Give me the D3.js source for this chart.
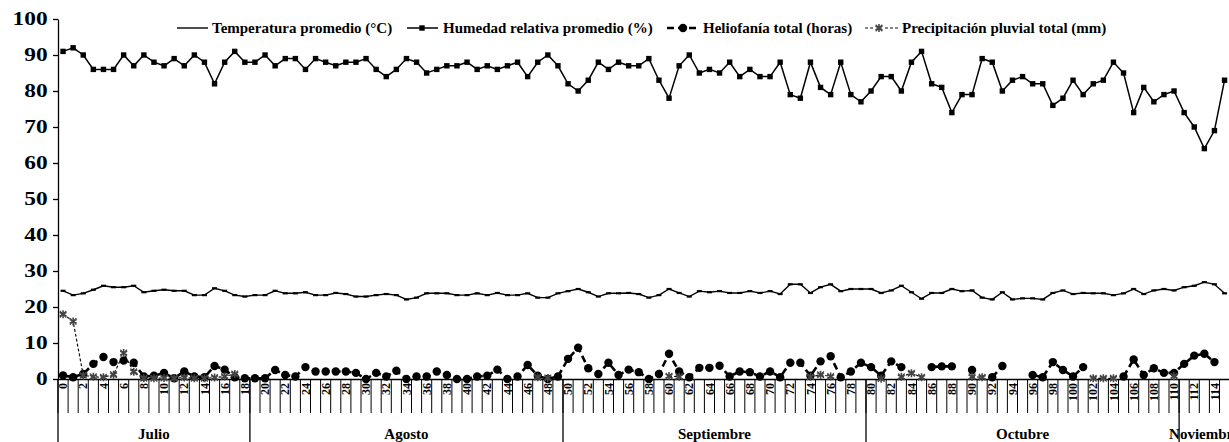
<!DOCTYPE html>
<html>
<head>
<meta charset="utf-8">
<script src="https://cdn.jsdelivr.net/npm/d3@7"></script>
<style>
  body { margin: 0; background: #fff; }
  text { font-family: "Liberation Serif", "Times New Roman", serif; font-weight: bold; fill: #000; }
</style>
</head>
<body>
<svg id="chart" width="1229" height="442"></svg>
<script>
// dias desde el 13 de julio (indice de la serie)
const dias = d3.range(116)
const yTicks = [0, 10, 20, 30, 40, 50, 60, 70, 80, 90, 100]

const meses = ["Julio", "Agosto", "Septiembre", "Octubre", "Noviembre"]
const mesInicio = [0, 19, 50, 80, 111]
const mesFin = [18, 49, 79, 110, 115]

const series = ["Temperatura promedio (°C)", "Humedad relativa promedio (%)", "Heliofanía total (horas)", "Precipitación pluvial total (mm)"]

const temperatura = [
  24.5, 23.3, 23.8, 24.8, 25.9, 25.5, 25.5, 25.9, 24.1, 24.5,
  24.8, 24.5, 24.5, 23.3, 23.3, 25.2, 24.5, 23.3, 22.9, 23.3,
  23.3, 24.5, 23.8, 23.8, 24.1, 23.3, 23.3, 23.9, 23.6, 22.9,
  22.9, 23.3, 23.6, 23.3, 22.1, 22.6, 23.8, 23.8, 23.8, 23.3,
  23.3, 23.8, 23.3, 23.9, 23.3, 23.3, 23.8, 22.6, 22.6, 23.8,
  24.4, 25.0, 24.1, 22.9, 23.8, 23.8, 23.9, 23.6, 22.6, 23.3,
  25.0, 23.9, 22.9, 24.4, 24.1, 24.4, 23.9, 23.9, 24.4, 23.9,
  24.4, 23.6, 26.3, 26.3, 23.9, 25.5, 26.3, 24.4, 25.0, 25.0,
  25.0, 23.9, 24.6, 25.9, 24.1, 22.3, 23.9, 23.9, 25.0, 24.4,
  24.6, 22.6, 22.1, 24.1, 22.1, 22.4, 22.4, 22.1, 23.9, 24.6,
  23.6, 23.9, 23.8, 23.8, 23.3, 23.8, 25.0, 23.6, 24.6, 25.0,
  24.6, 25.5, 25.9, 26.9, 26.3, 23.8
]

const humedad = [
  91, 92, 90, 86, 86, 86, 90, 87, 90, 88,
  87, 89, 87, 90, 88, 82, 88, 91, 88, 88,
  90, 87, 89, 89, 86, 89, 88, 87, 88, 88,
  89, 86, 84, 86, 89, 88, 85, 86, 87, 87,
  88, 86, 87, 86, 87, 88, 84, 88, 90, 87,
  82, 80, 83, 88, 86, 88, 87, 87, 89, 83,
  78, 87, 90, 85, 86, 85, 88, 84, 86, 84,
  84, 88, 79, 78, 88, 81, 79, 88, 79, 77,
  80, 84, 84, 80, 88, 91, 82, 81, 74, 79,
  79, 89, 88, 80, 83, 84, 82, 82, 76, 78,
  83, 79, 82, 83, 88, 85, 74, 81, 77, 79,
  80, 74, 70, 64, 69, 83
]

const heliofania = [
  1.0, 0.5, 1.4, 4.2, 6.1, 4.7, 5.1, 4.5, 0.7, 0.9,
  1.7, 0.2, 2.1, 0.7, 0.5, 3.6, 2.6, 0.5, 0.2, 0.2,
  0.2, 2.5, 1.1, 0.7, 3.3, 2.1, 2.1, 2.1, 2.1, 1.7,
  0, 1.7, 0.7, 2.3, 0, 0.7, 0.7, 2.1, 1.1, 0,
  0, 0.7, 0.9, 2.6, 0, 0.7, 3.9, 0.9, 0, 0.7,
  5.6, 8.7, 3.0, 1.4, 4.5, 1.1, 2.6, 1.9, 0, 1.4,
  7.0, 2.1, 0.5, 3.1, 3.1, 3.7, 0.7, 2.1, 1.9, 0.7,
  2.1, 0.5, 4.5, 4.5, 0.9, 4.9, 6.3, 0.5, 2.1, 4.5,
  3.3, 0.9, 4.9, 3.3, null, null, 3.3, 3.5, 3.5, null,
  2.5, null, 0.5, 3.6, null, null, 1.1, 0.5, 4.7, 2.5,
  0.7, 3.3, null, null, null, 0.7, 5.4, 1.1, 3.0, 1.7,
  1.7, 4.2, 6.5, 7.0, 4.7, null
]

const precipitacion = [
  18, 16, 1.0, 0.6, 0.5, 1.2, 7.2, 2.0, 0.2, 0.2,
  0.3, 0.2, 0.4, 0.2, 0.2, 0.4, 0.7, 1.4, null, null,
  null, null, null, null, null, null, null, null, null, null,
  null, null, null, null, null, null, null, null, null, null,
  null, null, null, null, null, null, null, 0.5, 0.3, null,
  null, null, null, null, null, null, null, null, null, null,
  0.8, 0.6, null, null, null, null, null, null, null, null,
  null, null, null, null, 0.6, 1.2, 0.7, null, null, null,
  null, 0.1, null, 0.6, 1.6, 0.5, null, null, null, null,
  0.6, 0.5, null, null, null, null, null, null, null, null,
  null, null, 0.2, 0.2, 0.2, null, null, null, null, null,
  0.8, null, null, null, null, null
]

function drawChart() {
    var svg = d3.select("#chart")

    var x = d3.scaleBand().domain(dias).range([58, 58 + dias.length * 10.1])
    var y = d3.scaleLinear().domain([0, 100]).range([379, 19])
    var cx = d => x(d) + x.bandwidth() / 2

    // eje Y
    var gy = svg.append("g")
        .attr("transform", "translate(58,0)")
        .call(d3.axisLeft(y).tickValues(yTicks).tickSize(5).tickSizeOuter(0))
    gy.attr("font-size", null).attr("font-family", null)
    gy.selectAll("path, line").attr("stroke", "#000").attr("stroke-width", 1.3)
    gy.selectAll("text")
        .attr("x", -8)
        .attr("transform", "scale(1.3,1)")
        .style("font-size", "18px")

    // eje X con dias
    var gx = svg.append("g")
        .attr("transform", "translate(0,379)")
        .call(d3.axisBottom(x).tickValues(dias.filter(d => d % 2 === 0)).tickSize(0).tickSizeOuter(0))
    gx.attr("font-size", null).attr("font-family", null)
    gx.select(".domain").attr("stroke", "#000").attr("stroke-width", 1.3)
    gx.selectAll("text")
        .attr("transform", "rotate(-90)")
        .attr("x", -4)
        .attr("y", 0)
        .attr("dy", "0.35em")
        .style("text-anchor", "end")
        .style("font-size", "12px")

    // separadores de cada dia
    svg.append("g").selectAll("line")
        .data(dias)
        .join("line")
        .attr("x1", d => x(d)).attr("x2", d => x(d))
        .attr("y1", 379).attr("y2", 413)
        .attr("stroke", "#000").attr("stroke-width", 1)

    // meses
    var gm = svg.append("g")
    gm.selectAll("line")
        .data(mesInicio)
        .join("line")
        .attr("x1", d => x(d)).attr("x2", d => x(d))
        .attr("y1", 379).attr("y2", 442)
        .attr("stroke", "#000").attr("stroke-width", 1.3)
    gm.selectAll("text")
        .data(meses)
        .join("text")
        .attr("x", (d, i) => (x(mesInicio[i]) + x(mesFin[i]) + x.bandwidth()) / 2)
        .attr("y", 439)
        .attr("text-anchor", "middle")
        .style("font-size", "15px")
        .text(d => d)

    var linea = d3.line()
        .defined(d => d != null)
        .x((d, i) => cx(dias[i]))
        .y(d => y(d))

    // temperatura
    svg.append("path")
        .datum(temperatura)
        .attr("d", linea)
        .attr("fill", "none").attr("stroke", "#000").attr("stroke-width", 1.4)
    svg.append("g").selectAll("line")
        .data(temperatura)
        .join("line")
        .attr("x1", (d, i) => cx(dias[i]) - 2.5).attr("x2", (d, i) => cx(dias[i]) + 2.5)
        .attr("y1", d => y(d)).attr("y2", d => y(d))
        .attr("stroke", "#000").attr("stroke-width", 2.2)

    // humedad
    svg.append("path")
        .datum(humedad)
        .attr("d", linea)
        .attr("fill", "none").attr("stroke", "#000").attr("stroke-width", 1.5)
    svg.append("g").selectAll("rect")
        .data(humedad)
        .join("rect")
        .attr("x", (d, i) => cx(dias[i]) - 2.7)
        .attr("y", d => y(d) - 2.7)
        .attr("width", 5.4).attr("height", 5.4)
        .attr("fill", "#000")

    // heliofania
    svg.append("path")
        .datum(heliofania)
        .attr("d", linea)
        .attr("fill", "none").attr("stroke", "#000").attr("stroke-width", 2.6)
        .attr("stroke-dasharray", "7,4")
    svg.append("g").selectAll("circle")
        .data(heliofania.map((v, i) => [i, v]).filter(d => d[1] != null))
        .join("circle")
        .attr("cx", d => cx(dias[d[0]]))
        .attr("cy", d => y(d[1]))
        .attr("r", 4.2)
        .attr("fill", "#000")

    // precipitacion
    var estrella = d3.symbol().type(d3.symbolAsterisk).size(45)
    var cruz = d3.symbol().type(d3.symbolX).size(30)
    svg.append("path")
        .datum(precipitacion)
        .attr("d", linea)
        .attr("fill", "none").attr("stroke", "#111").attr("stroke-width", 1.2)
        .attr("stroke-dasharray", "3,2")
    var gp = svg.append("g").selectAll("g")
        .data(precipitacion.map((v, i) => [i, v]).filter(d => d[1] != null))
        .join("g")
        .attr("transform", d => "translate(" + cx(dias[d[0]]) + "," + y(d[1]) + ")")
    gp.append("path").attr("d", estrella).attr("fill", "none").attr("stroke", "#444").attr("stroke-width", 1.6)
    gp.append("path").attr("d", cruz).attr("fill", "none").attr("stroke", "#444").attr("stroke-width", 1.2)

    // leyenda
    var ly = 28
    var leg = svg.append("g")
    leg.append("line").attr("x1", 177).attr("x2", 208).attr("y1", ly).attr("y2", ly)
        .attr("stroke", "#000").attr("stroke-width", 1.4)
    leg.append("text").attr("x", 212).attr("y", ly + 5).style("font-size", "15px").text(series[0])

    leg.append("line").attr("x1", 407).attr("x2", 438).attr("y1", ly).attr("y2", ly)
        .attr("stroke", "#000").attr("stroke-width", 1.5)
    leg.append("rect").attr("x", 422 - 2.7).attr("y", ly - 2.7).attr("width", 5.4).attr("height", 5.4).attr("fill", "#000")
    leg.append("text").attr("x", 443).attr("y", ly + 5).style("font-size", "15px").text(series[1])

    leg.append("line").attr("x1", 667).attr("x2", 700).attr("y1", ly).attr("y2", ly)
        .attr("stroke", "#000").attr("stroke-width", 2.6).attr("stroke-dasharray", "7,4")
    leg.append("circle").attr("cx", 683).attr("cy", ly).attr("r", 4.2).attr("fill", "#000")
    leg.append("text").attr("x", 703).attr("y", ly + 5).style("font-size", "15px").text(series[2])

    leg.append("line").attr("x1", 865).attr("x2", 899).attr("y1", ly).attr("y2", ly)
        .attr("stroke", "#111").attr("stroke-width", 1.2).attr("stroke-dasharray", "3,2")
    var lp = leg.append("g").attr("transform", "translate(879," + ly + ")")
    lp.append("rect").attr("x", -5).attr("y", -5).attr("width", 10).attr("height", 10).attr("fill", "#fff")
    lp.append("path").attr("d", estrella).attr("fill", "none").attr("stroke", "#444").attr("stroke-width", 1.6)
    lp.append("path").attr("d", cruz).attr("fill", "none").attr("stroke", "#444").attr("stroke-width", 1.2)
    leg.append("text").attr("x", 902).attr("y", ly + 5).style("font-size", "15px").text(series[3])
}

drawChart()
</script>
</body>
</html>
